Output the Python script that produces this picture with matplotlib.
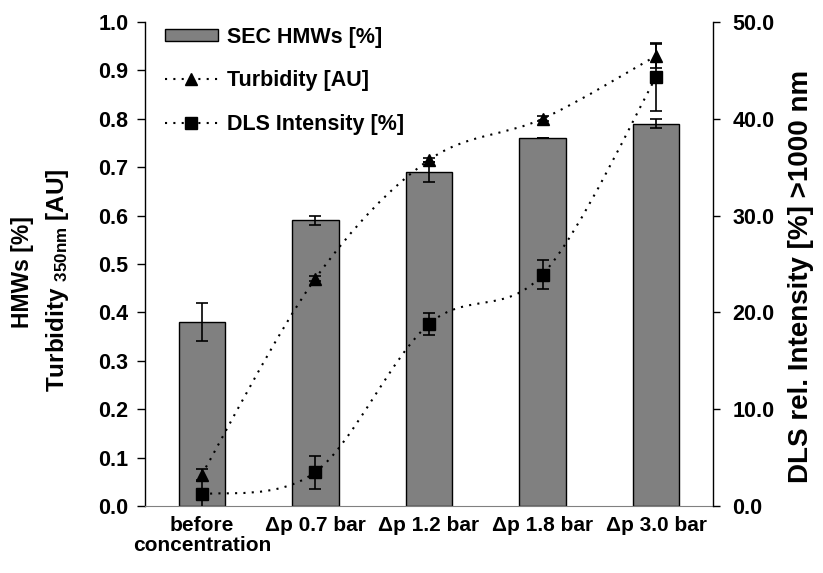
import numpy as np
import matplotlib.pyplot as plt
from matplotlib.path import Path
from matplotlib.patches import PathPatch, Patch
from matplotlib.lines import Line2D

plt.rcParams['font.family'] = ['Liberation Sans', 'DejaVu Sans']
plt.rcParams['font.weight'] = 'bold'
plt.rcParams['mathtext.fontset'] = 'custom'
plt.rcParams['mathtext.rm'] = 'Liberation Sans:bold'
plt.rcParams['mathtext.it'] = 'Liberation Sans:bold'
plt.rcParams['mathtext.bf'] = 'Liberation Sans:bold'

categories = ['before\nconcentration', 'Δp 0.7 bar', 'Δp 1.2 bar', 'Δp 1.8 bar', 'Δp 3.0 bar']
sec_hmw = [0.38, 0.59, 0.69, 0.76, 0.79]
sec_err = [0.04, 0.01, 0.02, 0.0, 0.01]
turbidity = [0.065, 0.47, 0.715, 0.80, 0.93]
turb_err = [0.012, 0.005, 0.005, 0.005, 0.025]
dls = [1.2, 3.5, 18.8, 23.9, 44.3]
dls_err = [1.4, 1.7, 1.1, 1.5, 3.5]


def smooth_path(x, y):
    # Bezier through the points, same idea as a "smoothed line" in a spreadsheet
    pts = np.column_stack([x, y]).astype(float)
    verts = [pts[0]]
    codes = [Path.MOVETO]
    n = len(pts)
    for i in range(n - 1):
        p0 = pts[i - 1] if i > 0 else pts[i]
        p1 = pts[i]
        p2 = pts[i + 1]
        p3 = pts[i + 2] if i + 2 < n else pts[i + 1]
        c1 = p1 + (p2 - p0) / 6
        c2 = p2 - (p3 - p1) / 6
        verts += [c1, c2, p2]
        codes += [Path.CURVE4] * 3
    return Path(verts, codes)


fig = plt.figure(figsize=(8.23, 5.73), dpi=100)
ax = fig.add_axes([0.1762, 0.1169, 0.69, 0.8447])
ax2 = ax.twinx()

xpos = np.arange(len(categories))
ax.bar(xpos, sec_hmw, width=0.41, color='#808080', edgecolor='black', linewidth=1.0, zorder=2)
ax.errorbar(xpos, sec_hmw, yerr=sec_err, fmt='none', ecolor='black', elinewidth=1.2,
            capsize=4.5, capthick=1.2, zorder=3)

# turbidity on the left scale
ax.add_patch(PathPatch(smooth_path(xpos, turbidity), fill=False, edgecolor='black',
                       linestyle=(0, (1, 3)), linewidth=1.5, zorder=4))
ax.errorbar(xpos, turbidity, yerr=turb_err, fmt='none', ecolor='black', elinewidth=1.2,
            capsize=4.5, capthick=1.2, zorder=5)
ax.plot(xpos, turbidity, linestyle='none', marker='^', color='black', markersize=9, zorder=6)

# DLS intensity on the right scale
ax2.add_patch(PathPatch(smooth_path(xpos, dls), fill=False, edgecolor='black',
                        linestyle=(0, (1, 3)), linewidth=1.5, zorder=4))
ax2.errorbar(xpos, dls, yerr=dls_err, fmt='none', ecolor='black', elinewidth=1.2,
             capsize=4.5, capthick=1.2, zorder=5)
ax2.plot(xpos, dls, linestyle='none', marker='s', color='black', markersize=9, zorder=6)

ax.set_xlim(-0.5, len(categories) - 0.5)
ax.set_ylim(0, 1.0)
ax2.set_ylim(0, 50)
ax.set_yticks(np.arange(0, 1.01, 0.1))
ax.set_yticklabels([f'{v:.1f}' for v in np.arange(0, 1.01, 0.1)])
ax2.set_yticks(np.arange(0, 51, 10))
ax2.set_yticklabels([f'{v:.1f}' for v in np.arange(0, 51, 10)])
ax.set_xticks(xpos)
ax.set_xticklabels(categories, fontsize=15, fontweight='bold', linespacing=1.1)

for a in (ax, ax2):
    a.spines['top'].set_visible(False)
ax.spines['bottom'].set_color('#808080')
ax2.spines['bottom'].set_visible(False)
ax.spines['right'].set_visible(False)
ax2.spines['left'].set_visible(False)
ax2.spines['right'].set_linewidth(1.0)
ax.spines['left'].set_linewidth(1.0)

ax.tick_params(axis='x', length=0, pad=7)
ax.tick_params(axis='y', direction='out', length=6, width=1.0, labelsize=15.5, pad=6)
ax2.tick_params(axis='y', direction='out', length=5, width=1.0, labelsize=15.5, pad=9)

fig.text(0.027, 0.525, 'HMWs [%]', rotation=90, ha='center', va='center', fontsize=16.5, fontweight='bold')
fig.text(0.070, 0.511, r'Turbidity $_{\mathbf{350nm}}$ [AU]', rotation=90, ha='center', va='center',
         fontsize=17.5, fontweight='bold')
fig.text(0.973, 0.518, 'DLS rel. Intensity [%] >1000 nm', rotation=90, ha='center', va='center',
         fontsize=20, fontweight='bold')

handles = [
    Patch(facecolor='#808080', edgecolor='black', linewidth=1.0),
    Line2D([], [], color='black', linestyle=(0, (1, 3)), linewidth=1.5, marker='^', markersize=9),
    Line2D([], [], color='black', linestyle=(0, (1, 3)), linewidth=1.5, marker='s', markersize=9),
]
labels = ['SEC HMWs [%]', 'Turbidity [AU]', 'DLS Intensity [%]']
leg = ax2.legend(handles, labels, loc='upper left', bbox_to_anchor=(0.02, 1.008), frameon=False,
                 fontsize=15.5, handlelength=2.46, handleheight=0.5, labelspacing=1.05,
                 handletextpad=0.42, borderaxespad=0.0)
for t in leg.get_texts():
    t.set_fontweight('bold')

fig.savefig('out.png', dpi=100)
